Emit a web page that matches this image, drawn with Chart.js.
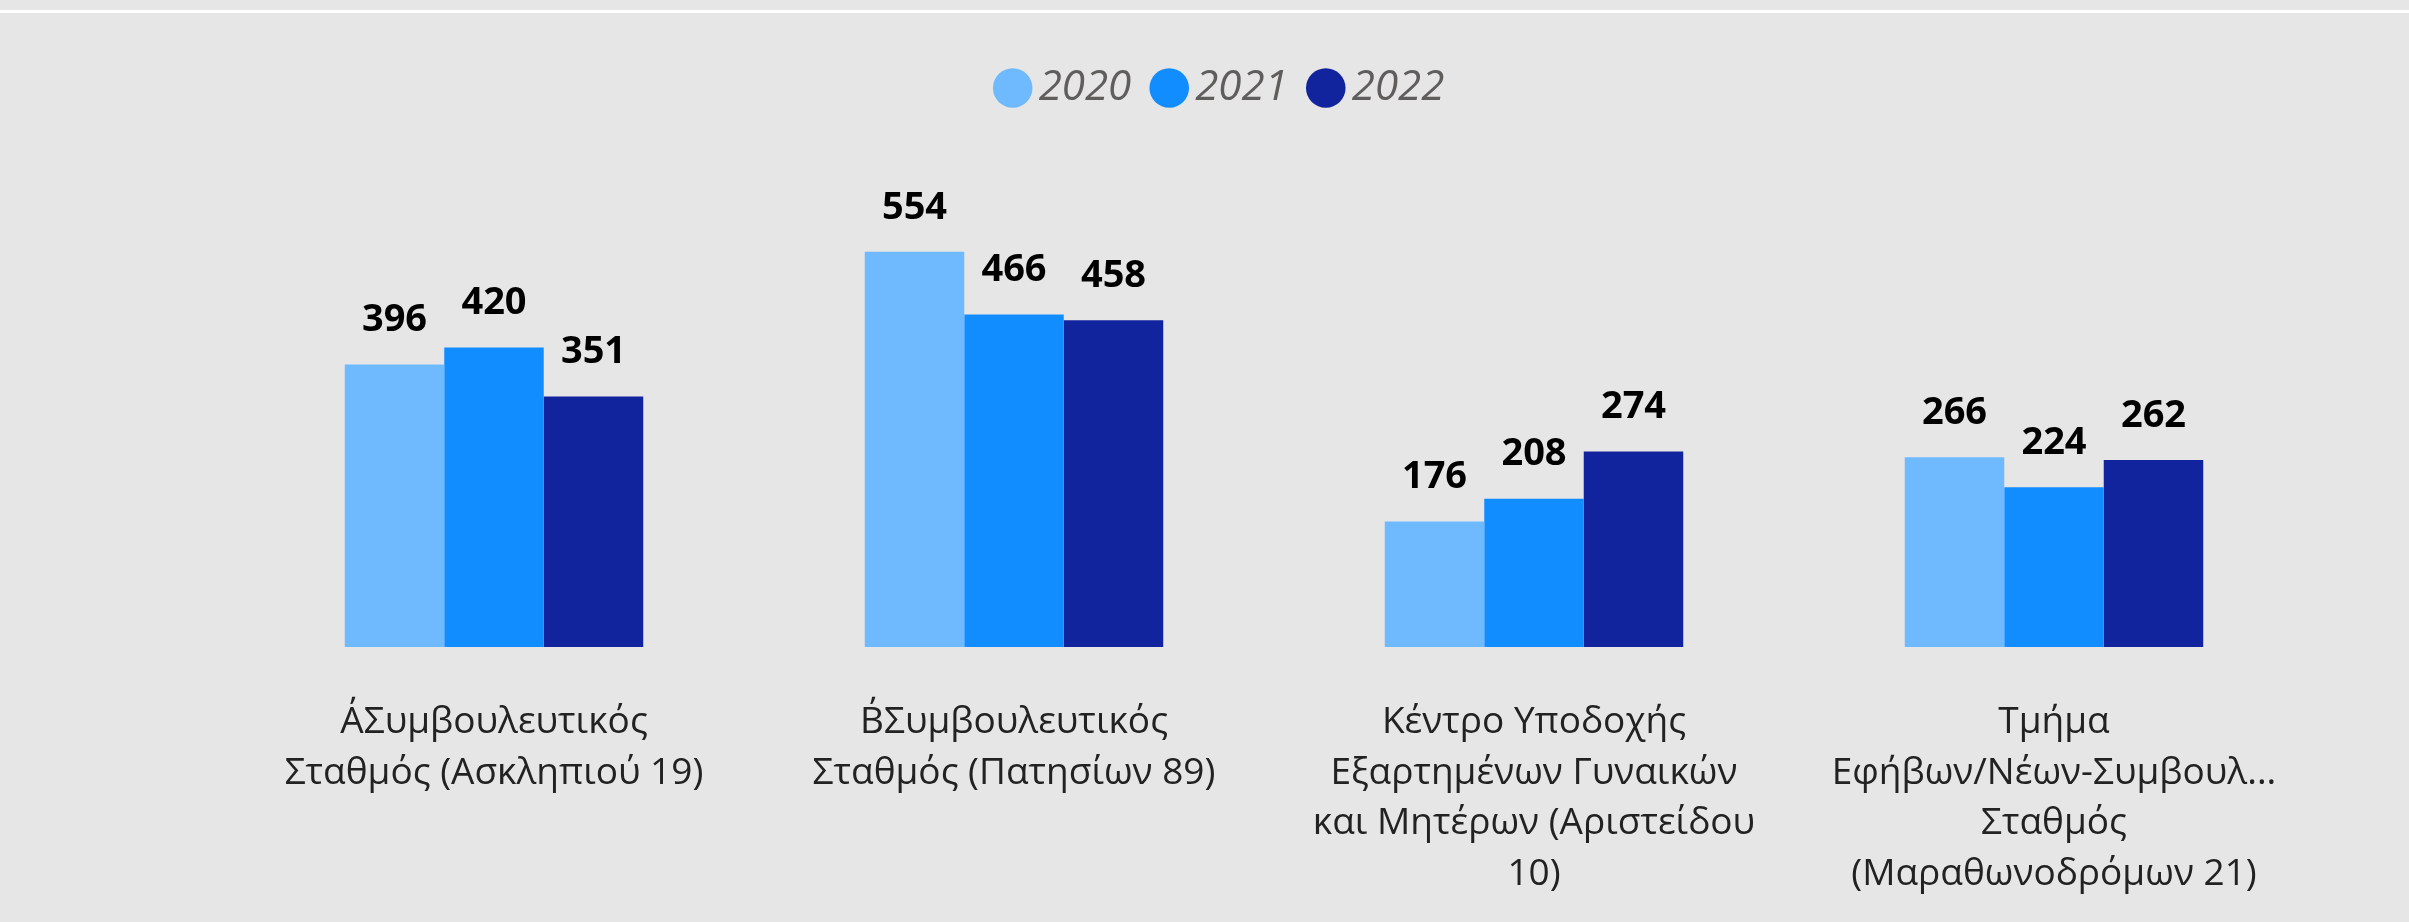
<!DOCTYPE html>
<html lang="el">
<head>
<meta charset="utf-8">
<title>Συμβουλευτικοί Σταθμοί 2020-2022</title>
<script src="https://cdn.jsdelivr.net/npm/chart.js@4.4.1/dist/chart.umd.min.js"></script>
<style>
  html,body{margin:0;padding:0;background:#e6e6e6;overflow:hidden}
  #wrap{position:relative;width:2409px;height:922px}
  #topline{position:absolute;left:0;top:10px;width:100%;height:3px;background:#fff}
</style>
</head>
<body>
<div id="wrap"><div id="topline"></div><canvas id="c"></canvas></div>
<script>
// categories (already wrapped the way the reference shows them)
const categories = [
  ['Α΄Συμβουλευτικός', 'Σταθμός (Ασκληπιού 19)'],
  ['Β΄Συμβουλευτικός', 'Σταθμός (Πατησίων 89)'],
  ['Κέντρο Υποδοχής', 'Εξαρτημένων Γυναικών', 'και Μητέρων (Αριστείδου', '10)'],
  ['Τμήμα', 'Εφήβων/Νέων-Συμβουλ...', 'Σταθμός', '(Μαραθωνοδρόμων 21)']
];
const years = ['2020', '2021', '2022'];
const values2020 = [396, 554, 176, 266];
const values2021 = [420, 466, 208, 224];
const values2022 = [351, 458, 274, 262];
const colors = ['#6fb9ff', '#118dff', '#12239e'];

Chart.defaults.font.family = "'Open Sans', 'Noto Sans', sans-serif";

// give the legend extra room below it
const legendGap = {
  id: 'legendGap',
  beforeInit(chart){
    const fit = chart.legend.fit;
    chart.legend.fit = function(){ fit.call(this); this.height = 185; };
  }
};

// value labels above each bar
const valueLabels = {
  id: 'valueLabels',
  afterDatasetsDraw(chart){
    const ctx = chart.ctx;
    ctx.save();
    ctx.font = "bold 38px 'Open Sans', sans-serif";
    ctx.fillStyle = '#000';
    ctx.textAlign = 'center';
    ctx.textBaseline = 'middle';
    chart.data.datasets.forEach((ds, i) => {
      chart.getDatasetMeta(i).data.forEach((bar, j) => {
        ctx.fillText(String(ds.data[j]), bar.x, bar.y - 44);
      });
    });
    ctx.restore();
  }
};

new Chart(document.getElementById('c'), {
  type: 'bar',
  data: {
    labels: categories,
    datasets: [values2020, values2021, values2022].map((d, i) => ({
      label: years[i], data: d, backgroundColor: colors[i],
      categoryPercentage: 0.574, barPercentage: 1
    }))
  },
  options: {
    responsive: true,
    maintainAspectRatio: false,
    animation: false,
    layout: { padding: { top: 34, left: 138, right: 95, bottom: 0 } },
    plugins: {
      legend: {
        position: 'top',
        labels: {
          usePointStyle: true, pointStyle: 'circle',
          boxHeight: 28, boxWidth: 10, padding: 33,
          color: '#605e5c',
          font: { size: 42, style: 'italic' }
        }
      },
      tooltip: { enabled: false }
    },
    scales: {
      x: {
        grid: { display: false, drawTicks: false },
        border: { display: false },
        ticks: { color: '#222', font: { size: 37, lineHeight: 1.37 }, padding: 50, maxRotation: 0, autoSkip: false },
        afterFit(s){ s.height = 275; }
      },
      y: {
        min: 0, max: 600,
        ticks: { display: false },
        grid: { display: false },
        border: { display: false },
        afterFit(s){ s.width = 96; }
      }
    }
  },
  plugins: [legendGap, valueLabels]
});
</script>
</body>
</html>
